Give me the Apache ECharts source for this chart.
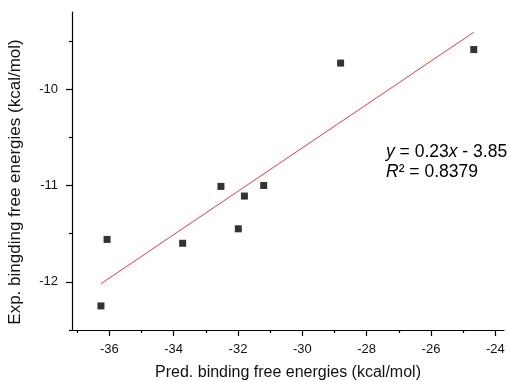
<!DOCTYPE html>
<html>
<head>
<meta charset="utf-8">
<script src="https://cdn.jsdelivr.net/npm/echarts@6/dist/echarts.min.js"></script>
<style>html,body{margin:0;padding:0;background:#fff;}#c{width:510px;height:382px;}</style>
</head>
<body>
<div id="c"></div>
<script>
var predX = [-36.26, -36.07, -33.72, -32.53, -31.99, -31.80, -31.20, -28.81, -24.67];
var expY  = [-12.25, -11.56, -11.60, -11.01, -11.45, -11.11, -11.00, -9.73, -9.59];
var fitX = [-36.26, -24.67];
var fitY = [-12.02, -9.41];
var xMajorTicks = [-36, -34, -32, -30, -28, -26, -24];
var xMinorTicks = [-37, -35, -33, -31, -29, -27, -25];
var yMajorTicks = [-12, -11, -10];
var yMinorTicks = [-12.5, -11.5, -10.5, -9.5];
var eqLine1 = '{i|y} = 0.23{i|x} - 3.85';
var eqLine2 = '{i|R}\u00b2 = 0.8379';

var chart = echarts.init(document.getElementById('c'), null, {renderer: 'canvas'});
var font = 'Liberation Sans, Arial, sans-serif';
var xMin = -37.16, xMax = -23.73, yMin = -12.5, yMax = -9.2;
var grid = {left: 72, right: 6, top: 12, bottom: 52};

function xAxisDef(major) {
  return {
    type: 'value', min: xMin, max: xMax, position: 'bottom',
    axisLine: {show: major, onZero: false, lineStyle: {color: '#000', width: 1.2}},
    splitLine: {show: false},
    axisTick: {show: true, inside: false, length: major ? 6 : 3, customValues: major ? xMajorTicks : xMinorTicks,
      lineStyle: {color: '#000', width: 1.2}},
    axisLabel: {show: major, customValues: xMajorTicks, margin: 13, color: '#111', fontSize: 13, fontFamily: font,
      formatter: function (v) { return String(v); }}
  };
}
function yAxisDef(major) {
  return {
    type: 'value', min: yMin, max: yMax, position: 'left',
    axisLine: {show: major, onZero: false, lineStyle: {color: '#000', width: 1.2}},
    splitLine: {show: false},
    axisTick: {show: true, inside: false, length: major ? 6 : 3, customValues: major ? yMajorTicks : yMinorTicks,
      lineStyle: {color: '#000', width: 1.2}},
    axisLabel: {show: major, customValues: yMajorTicks, margin: 14, color: '#111', fontSize: 13, fontFamily: font,
      formatter: function (v) { return String(v); }}
  };
}

var scatterData = predX.map(function (x, i) { return [x, expY[i]]; });
var fitData = fitX.map(function (x, i) { return [x, fitY[i]]; });

chart.setOption({
  backgroundColor: '#fff',
  animation: false,
  grid: grid,
  xAxis: [xAxisDef(true), xAxisDef(false)],
  yAxis: [yAxisDef(true), yAxisDef(false)],
  series: [
    {type: 'line', data: fitData, xAxisIndex: 0, yAxisIndex: 0, showSymbol: false, symbol: 'none',
      lineStyle: {color: '#e83c3c', width: 1}, z: 2},
    {type: 'scatter', data: scatterData, xAxisIndex: 0, yAxisIndex: 0, symbol: 'rect', symbolSize: 7,
      itemStyle: {color: '#000'}, z: 3}
  ],
  graphic: [
    {type: 'text', left: 386, top: 143, style: {text: eqLine1, fill: '#000', font: '17.5px ' + font,
      rich: {i: {fontStyle: 'italic', fontSize: 17.5, fontFamily: font, fill: '#000'}}}},
    {type: 'text', left: 386, top: 163, style: {text: eqLine2, fill: '#000', font: '17.5px ' + font,
      rich: {i: {fontStyle: 'italic', fontSize: 17.5, fontFamily: font, fill: '#000'}}}},
    {type: 'text', x: 288, y: 373, style: {text: 'Pred. binding free energies (kcal/mol)', fill: '#111',
      font: '16px ' + font, align: 'center', verticalAlign: 'middle'}},
    {type: 'text', x: 15, y: 182, rotation: Math.PI / 2, style: {text: 'Exp. bingding free energies (kcal/mol)', fill: '#111',
      font: '17px ' + font, align: 'center', verticalAlign: 'middle'}}
  ]
});
</script>
</body>
</html>
